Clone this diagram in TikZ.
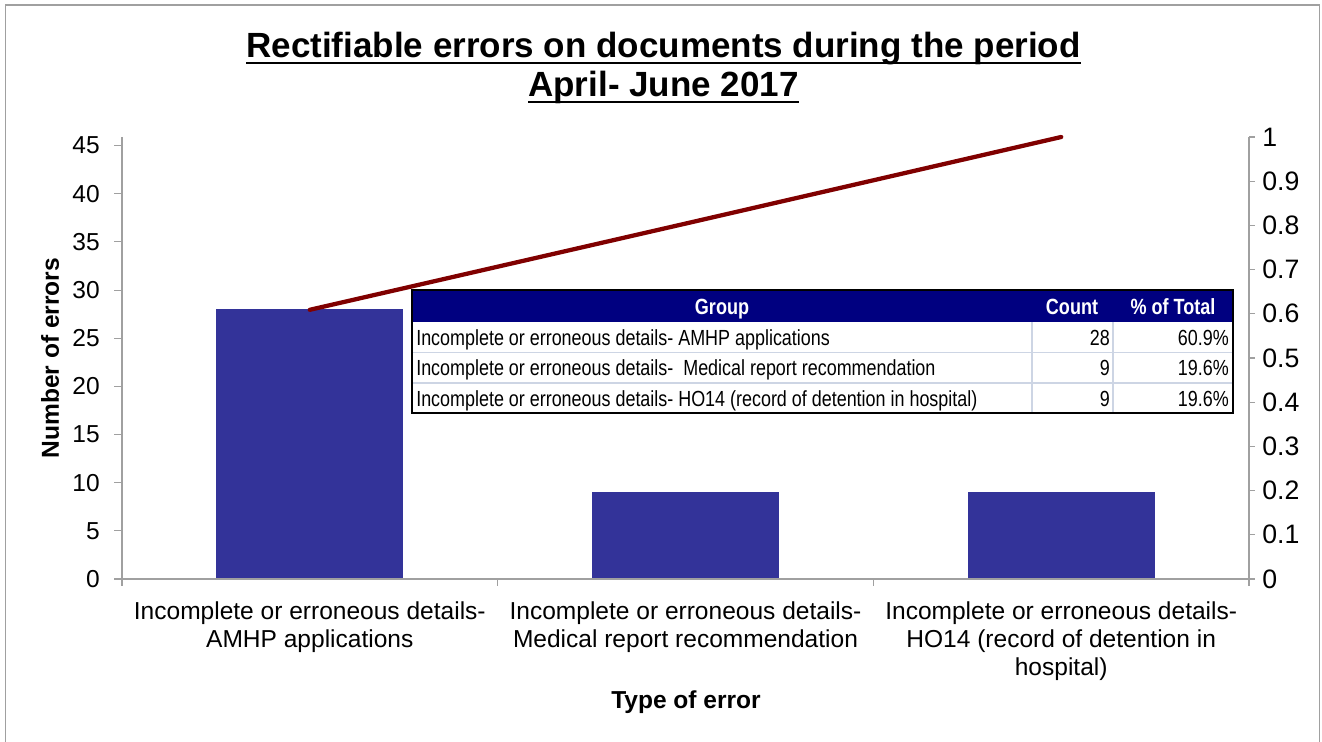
\documentclass[tikz,border=0pt]{standalone}
\usepackage{fontspec}
\setmainfont{Liberation Sans}
\newfontfamily\narrowfont[FakeStretch=0.82]{Liberation Sans}
\definecolor{barblue}{HTML}{333399}
\definecolor{linered}{HTML}{800000}
\definecolor{navyhdr}{HTML}{000080}
\definecolor{axisgray}{HTML}{A0A0A0}
\definecolor{cellsep}{HTML}{CDD5E4}
\begin{document}
\begin{tikzpicture}[x=0.75pt,y=-0.75pt,
  axisline/.style={draw=axisgray,line width=0.8pt},
  ticklbl/.style={inner sep=0pt,font=\fontsize{18.4}{21}\selectfont},
  rticklbl/.style={inner sep=0pt,font=\fontsize{20}{23}\selectfont},
  catlbl/.style={inner sep=0pt,align=center,anchor=north,font=\fontsize{18.4}{21}\selectfont},
  axtitle/.style={inner sep=0pt,font=\fontsize{18.4}{21}\selectfont\bfseries},
  titletxt/.style={inner sep=0pt,anchor=base,font=\fontsize{26.25}{31}\selectfont\bfseries},
  bar/.style={fill=barblue},
  hdrtxt/.style={inner sep=0pt,anchor=base,text=white,font=\narrowfont\fontsize{16.5}{19}\selectfont\bfseries},
  celltxt/.style={inner sep=0pt,font=\narrowfont\fontsize{16.4}{19}\selectfont},
  sepline/.style={draw=cellsep,line width=1pt}]
\useasboundingbox (0,0) rectangle (1322,742);
% outer frame
\draw[axisgray,line width=1pt] (5.5,742) -- (5.5,5) -- (1319.5,5) -- (1319.5,742);
% title
\node[titletxt] (t1) at (663.5,58) {Rectifiable errors on documents during the period};
\node[titletxt] (t2) at (663.5,97) {April- June 2017};
\draw[line width=1.6pt] ([yshift=-3.5pt]t1.base west) -- ([yshift=-3.5pt]t1.base east);
\draw[line width=1.6pt] ([yshift=-3.5pt]t2.base west) -- ([yshift=-3.5pt]t2.base east);
% bars
\fill[bar] (216,{579-28*9.63}) rectangle (403,579);
\fill[bar] (592,{579-9*9.63}) rectangle (779,579);
\fill[bar] (968,{579-9*9.63}) rectangle (1155,579);
% axes
\draw[axisline] (122,137) -- (122,579) -- (1249,579) -- (1249,137);
\foreach \v in {0,5,...,45}{
  \draw[axisline] (114,{579-\v*9.63}) -- (122,{579-\v*9.63});
  \node[ticklbl,anchor=east] (yl\v) at (100,{579-\v*9.63}) {\v};
}
\foreach \lab [count=\i from 0] in {0,0.1,0.2,0.3,0.4,0.5,0.6,0.7,0.8,0.9,1}{
  \draw[axisline] (1249,{579-\i*44.2}) -- (1255,{579-\i*44.2});
  \node[rticklbl,anchor=west] (yr\i) at (1262,{579-\i*44.2}) {\lab};
}
\foreach \x in {122,497.7,873.3,1249}{
  \draw[axisline] (\x,579) -- (\x,586);
}
% cumulative line
\coordinate (c1) at (309.8,309.8);
\coordinate (c2) at (685.5,223.6);
\coordinate (c3) at (1061.2,137);
\draw[linered,line width=3.2pt,line cap=round,line join=round] (c1) -- (c2) -- (c3);
% category labels
\node[catlbl] (cat1) at (309.8,601) {Incomplete or erroneous details-\\AMHP applications};
\node[catlbl] (cat2) at (685.5,601) {Incomplete or erroneous details-\\Medical report recommendation};
\node[catlbl] (cat3) at (1061.2,601) {Incomplete or erroneous details-\\HO14 (record of detention in\\hospital)};
% axis titles
\node[axtitle,rotate=90] (ytitle) at (50,358) {Number of errors};
\node[axtitle] (xtitle) at (686,702) {Type of error};
% table
\fill[white] (412,290) rectangle (1233,413);
\fill[navyhdr] (412,290) rectangle (1233,322);
\draw[sepline] (412,352.5) -- (1233,352.5);
\draw[sepline] (412,383) -- (1233,383);
\draw[sepline] (1032,322) -- (1032,413);
\draw[sepline] (1113,322) -- (1113,413);
\draw[black,line width=1.6pt] (412,290) rectangle (1233,413);
\node[hdrtxt] (hg) at (722,314) {Group};
\node[hdrtxt] (hc) at (1072,314) {Count};
\node[hdrtxt] (hp) at (1173,314) {\% of Total};
\node[celltxt,anchor=base west] (r1a) at (416,345) {Incomplete or erroneous details- AMHP applications};
\node[celltxt,anchor=base west] (r2a) at (416,375.5) {Incomplete or erroneous details-\ \ Medical report recommendation};
\node[celltxt,anchor=base west] (r3a) at (416,406) {Incomplete or erroneous details- HO14 (record of detention in hospital)};
\node[celltxt,anchor=base east] (r1b) at (1110,345) {28};
\node[celltxt,anchor=base east] (r2b) at (1110,375.5) {9};
\node[celltxt,anchor=base east] (r3b) at (1110,406) {9};
\node[celltxt,anchor=base east] (r1c) at (1229,345) {60.9\%};
\node[celltxt,anchor=base east] (r2c) at (1229,375.5) {19.6\%};
\node[celltxt,anchor=base east] (r3c) at (1229,406) {19.6\%};
\end{tikzpicture}
\end{document}
